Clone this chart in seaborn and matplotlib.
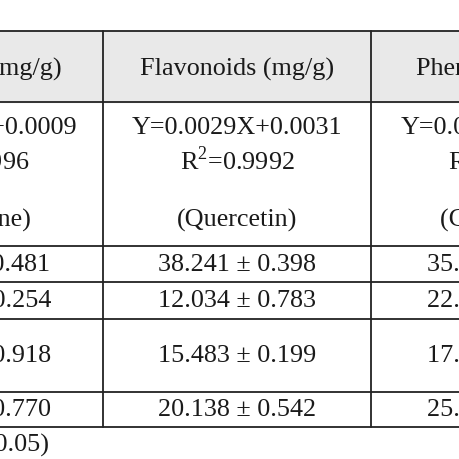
import matplotlib.pyplot as plt
import seaborn as sns

sns.set_theme(style="white")
plt.rcParams['font.family'] = ['Liberation Serif', 'DejaVu Serif']

# table content (left and right columns are cut off by the crop)
headers = ["Alkaloids (mg/g)", "Flavonoids (mg/g)", "Phenolics (mg/g)"]
equations = ["Y=0.0051X+0.0009", "Y=0.0029X+0.0031", "Y=0.0047X+0.0022"]
r2 = ["R$^2$=0.9996", "R$^2$=0.9992", "R$^2$=0.9987"]
standards = ["(Berberine)", "(Quercetin)", "(Gallic acid)"]
alkaloids = ["24.116 ± 0.481", "10.527 ± 0.254", "13.062 ± 0.918", "18.340 ± 0.770"]
flavonoids = ["38.241 ± 0.398", "12.034 ± 0.783", "15.483 ± 0.199", "20.138 ± 0.542"]
phenolics = ["35.172 ± 0.611", "22.405 ± 0.337", "17.463 ± 0.285", "25.219 ± 0.464"]
footnote = "(p < 0.05)"

col_x = [-28, 237, 506]
h_lines = [32, 103, 247, 283, 320, 393, 428]
v_lines = [103, 371]

fig = plt.figure(figsize=(4.6, 4.6), dpi=100)
ax = fig.add_axes([0, 0, 1, 1])
ax.set_xlim(0, 460)
ax.set_ylim(460, 0)
ax.axis('off')
plt.rcParams['mathtext.fontset'] = 'custom'
plt.rcParams['mathtext.rm'] = 'Liberation Serif'

ax.fill_between([0, 460], 32, 103, color='#e9e9e9', zorder=0)
for y in h_lines:
    ax.plot([0, 460], [y, y], color='#222222', lw=1.3)
for x in v_lines:
    ax.plot([x, x], [32, 428], color='#222222', lw=1.3)

fs = 18.8
kw = dict(ha='center', va='center', fontsize=fs, color='#1a1a1a', clip_on=True)
value_cols = [alkaloids, flavonoids, phenolics]
row_y = [265, 301, 356, 410]
for i, x in enumerate(col_x):
    ax.text(x, 69, headers[i], **kw)
    ax.text(x, 128, equations[i], **kw)
    ax.text(x, 161, r2[i], **kw)
    ax.text(x, 220, standards[i], **kw)
    for y, v in zip(row_y, value_cols[i]):
        ax.text(x, y, v, **kw)

ax.text(-55, 445, footnote, ha='left', va='center', fontsize=fs, color='#1a1a1a', clip_on=True)

fig.savefig('out.png', dpi=100)
